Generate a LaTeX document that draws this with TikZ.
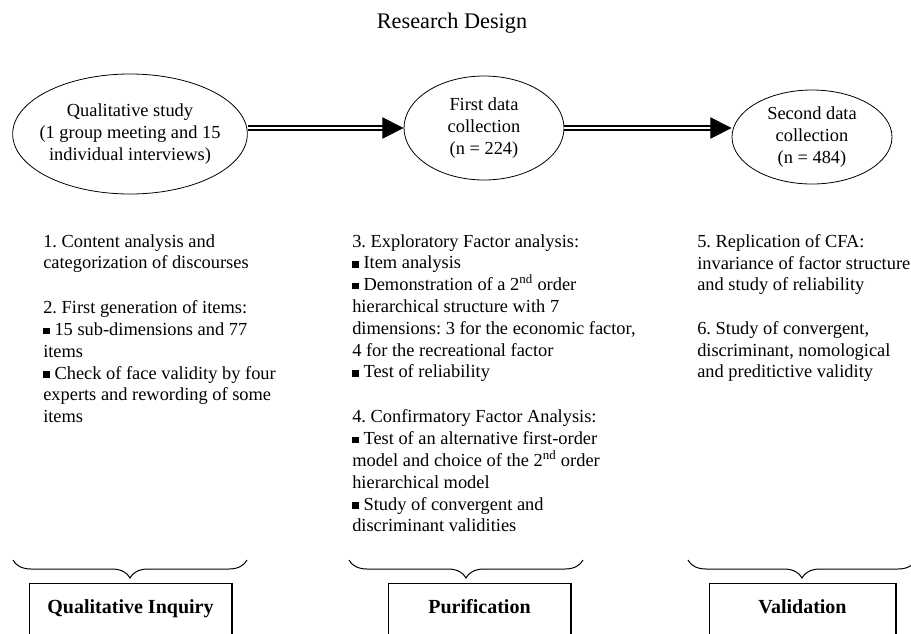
\documentclass[tikz,border=0pt]{standalone}
\usepackage{fontspec}
\setmainfont{Liberation Serif}
\frenchspacing
\usetikzlibrary{shapes.geometric,arrows.meta,decorations.pathreplacing}
\newcommand\sqbul{\rule[1pt]{5pt}{5pt}\ }

\tikzset{
	txt/.style={font=\fontsize{13.8}{16.35}\selectfont},
	phase/.style={ellipse, draw, line width=0.6pt, inner xsep=-8pt, inner ysep=0pt, align=center, txt},
	steptext/.style={anchor=north west, inner sep=0pt, align=left, txt},
	stage/.style={draw, line width=1pt, anchor=north, inner xsep=0pt, inner ysep=11pt, text height=11pt, text depth=60pt, font=\fontsize{15}{18}\selectfont\bfseries},
	flow/.style={double, double distance=2.2pt, line width=0.9pt, -{Triangle[length=16pt,width=16pt]}},
	grp/.style={decorate, decoration={brace, amplitude=13.5pt}, line width=0.75pt}
}

\begin{document}
\begin{tikzpicture}[x=0.75pt, y=-0.75pt]
			%%%%% START %%%%%
			\useasboundingbox (0, 0) rectangle (911, 633);
			\clip (0, 0) rectangle (911, 633);
			
			\node[font=\fontsize{16.7}{20}\selectfont, anchor=base] (title) at (452, 28) {Research Design};
			
			\node[phase, minimum width=176pt, minimum height=90pt] (qual) at (130, 134) {Qualitative study\\(1 group meeting and 15\\individual interviews)};
			\node[phase, minimum width=120pt, minimum height=78pt] (first) at (484, 128) {First data\\collection\\(n = 224)};
			\node[phase, minimum width=120pt, minimum height=70.5pt] (second) at (812, 137) {Second data\\collection\\(n = 484)};
			
			\draw[flow] (qual.east |- first) -- (first.west);
			\draw[flow] (first.east) -- (second.west |- first);
			
			\node[steptext] (s1) at (43, 234) {1. Content analysis and\\categorization of discourses};
			\node[steptext] (s2) at (43, 300.5) {2. First generation of items:\\\sqbul 15 sub-dimensions and 77\\items\\\sqbul Check of face validity by four\\experts and rewording of some\\items};
			
			\node[steptext] (s3) at (352, 234) {3. Exploratory Factor analysis:\\\sqbul Item analysis\\\sqbul Demonstration of a 2\textsuperscript{nd} order\\hierarchical structure with 7\\dimensions: 3 for the economic factor,\\4 for the recreational factor\\\sqbul Test of reliability};
			\node[steptext] (s4) at (352, 409.7) {4. Confirmatory Factor Analysis:\\\sqbul Test of an alternative first-order\\model and choice of the 2\textsuperscript{nd} order\\hierarchical model\\\sqbul Study of convergent and\\discriminant validities};
			
			\node[steptext] (s5) at (697, 234) {5. Replication of CFA:\\invariance of factor structure\\and study of reliability};
			\node[steptext] (s6) at (697, 321) {6. Study of convergent,\\discriminant, nomological\\and preditictive validity};
			
			\draw[grp] (247, 560) -- (13, 560);
			\draw[grp] (583, 560) -- (349, 560);
			\draw[grp] (916, 560) -- (688, 560);
			
			\node[stage, minimum width=152pt] (inq) at (130.5, 583) {Qualitative Inquiry};
			\node[stage, minimum width=137pt] (pur) at (479.5, 583) {Purification};
			\node[stage, minimum width=140pt] (val) at (802.5, 583) {Validation};
			
			%%%%% END %%%%%
\end{tikzpicture}
\end{document}
